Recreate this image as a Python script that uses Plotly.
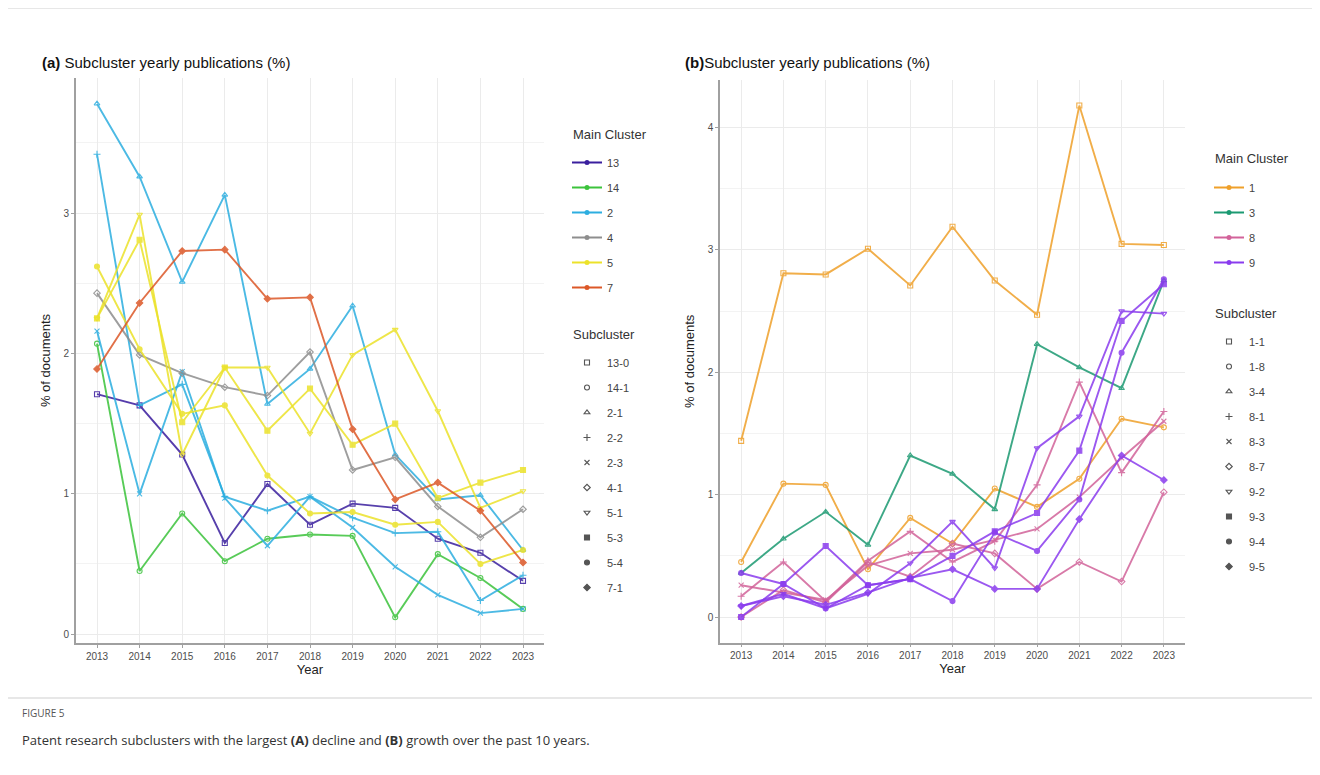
import plotly.graph_objects as go

W, H = 1320, 775
OFF = 8  # page body margin
years = list(range(2013, 2024))

# ---------- Panel (a) ----------
a_names = ["13-0", "14-1", "2-1", "2-2", "2-3", "4-1", "5-1", "5-3", "5-4", "7-1"]
a_cluster = ["13", "14", "2", "2", "2", "4", "5", "5", "5", "7"]
a_13_0 = [1.71, 1.63, 1.28, 0.65, 1.07, 0.78, 0.93, 0.90, 0.68, 0.58, 0.38]
a_14_1 = [2.07, 0.45, 0.86, 0.52, 0.68, 0.71, 0.70, 0.12, 0.57, 0.40, 0.18]
a_2_1 = [3.78, 3.26, 2.51, 3.13, 1.64, 1.89, 2.34, 1.28, 0.96, 0.99, 0.60]
a_2_2 = [3.42, 1.63, 1.78, 0.98, 0.88, 0.98, 0.83, 0.72, 0.73, 0.24, 0.42]
a_2_3 = [2.16, 1.00, 1.87, 0.97, 0.63, 0.98, 0.76, 0.48, 0.28, 0.15, 0.18]
a_4_1 = [2.43, 1.99, 1.86, 1.76, 1.70, 2.01, 1.17, 1.26, 0.91, 0.69, 0.89]
a_5_1 = [2.25, 2.99, 1.28, 1.90, 1.90, 1.43, 1.99, 2.17, 1.59, 0.90, 1.02]
a_5_3 = [2.25, 2.81, 1.51, 1.90, 1.45, 1.75, 1.35, 1.50, 0.97, 1.08, 1.17]
a_5_4 = [2.62, 2.03, 1.57, 1.63, 1.13, 0.86, 0.87, 0.78, 0.80, 0.50, 0.60]
a_7_1 = [1.89, 2.36, 2.73, 2.74, 2.39, 2.40, 1.46, 0.96, 1.08, 0.88, 0.51]
a_values = [a_13_0, a_14_1, a_2_1, a_2_2, a_2_3, a_4_1, a_5_1, a_5_3, a_5_4, a_7_1]
a_main = ["13", "14", "2", "4", "5", "7"]
a_colors = {"13": "#3A1F9E", "14": "#3CC33C", "2": "#2DAEE0",
            "4": "#8E8E8E", "5": "#ECE22A", "7": "#DC5828"}

# ---------- Panel (b) ----------
b_names = ["1-1", "1-8", "3-4", "8-1", "8-3", "8-7", "9-2", "9-3", "9-4", "9-5"]
b_cluster = ["1", "1", "3", "8", "8", "8", "9", "9", "9", "9"]
b_1_1 = [1.44, 2.81, 2.80, 3.01, 2.71, 3.19, 2.75, 2.47, 4.18, 3.05, 3.04]
b_1_8 = [0.45, 1.09, 1.08, 0.39, 0.81, 0.60, 1.05, 0.90, 1.13, 1.62, 1.55]
b_3_4 = [0.36, 0.64, 0.86, 0.59, 1.32, 1.17, 0.88, 2.23, 2.04, 1.87, 2.75]
b_8_1 = [0.17, 0.45, 0.13, 0.46, 0.70, 0.45, 0.62, 1.08, 1.92, 1.18, 1.68]
b_8_3 = [0.26, 0.20, 0.14, 0.42, 0.52, 0.55, 0.63, 0.72, 0.98, 1.30, 1.60]
b_8_7 = [0.00, 0.22, 0.12, 0.45, 0.33, 0.60, 0.52, 0.23, 0.45, 0.29, 1.02]
b_9_2 = [0.09, 0.19, 0.07, 0.19, 0.44, 0.78, 0.40, 1.38, 1.64, 2.50, 2.48]
b_9_3 = [0.00, 0.27, 0.58, 0.26, 0.31, 0.50, 0.70, 0.85, 1.36, 2.42, 2.72]
b_9_4 = [0.36, 0.27, 0.07, 0.26, 0.31, 0.13, 0.69, 0.54, 0.96, 2.16, 2.76]
b_9_5 = [0.09, 0.17, 0.10, 0.20, 0.32, 0.39, 0.23, 0.23, 0.80, 1.32, 1.12]
b_values = [b_1_1, b_1_8, b_3_4, b_8_1, b_8_3, b_8_7, b_9_2, b_9_3, b_9_4, b_9_5]
b_main = ["1", "3", "8", "9"]
b_colors = {"1": "#EFA02A", "3": "#1C9A72", "8": "#D2639A", "9": "#8A3CEE"}

symbols = ["square-open", "circle-open", "triangle-up-open", "cross-thin-open",
           "x-thin-open", "diamond-open", "triangle-down-open", "square",
           "circle", "diamond"]

FONT = "Liberation Sans, Arial, sans-serif"
fig = go.Figure()


def px_x(p):
    return (p - OFF) / W


def px_y(p):
    return 1 - (p - OFF) / H


def add_panel(names, clusters, values, colors, xa, ya, leg_main, leg_sub, mains):
    for name, cl, vals, sym in zip(names, clusters, values, symbols):
        col = colors[cl]
        fig.add_trace(go.Scatter(
            x=years, y=vals, mode="lines+markers", xaxis=xa, yaxis=ya,
            line=dict(color=col, width=1.9),
            marker=dict(symbol=sym, size=5, color=col,
                        line=dict(color=col, width=1.1)),
            showlegend=False, name=name, opacity=0.85))
    for cl in mains:
        fig.add_trace(go.Scatter(
            x=[None], y=[None], mode="lines+markers", xaxis=xa, yaxis=ya,
            line=dict(color=colors[cl], width=2),
            marker=dict(symbol="circle", size=5, color=colors[cl]),
            name=cl, legend=leg_main, legendgroup=leg_main + cl, showlegend=True))
    for name, sym in zip(names, symbols):
        fig.add_trace(go.Scatter(
            x=[None], y=[None], mode="markers", xaxis=xa, yaxis=ya,
            marker=dict(symbol=sym, size=5, color="#555555",
                        line=dict(color="#555555", width=1.1)),
            name=name, legend=leg_sub, legendgroup=leg_sub + name, showlegend=True))


add_panel(a_names, a_cluster, a_values, a_colors, "x", "y", "legend", "legend2", a_main)
add_panel(b_names, b_cluster, b_values, b_colors, "x2", "y2", "legend3", "legend4", b_main)

axis_common = dict(
    showline=True, linecolor="#a0a0a0", linewidth=1.5,
    ticks="outside", ticklen=3, tickcolor="#a0a0a0",
    tickfont=dict(family=FONT, size=10, color="#4d4d4d"),
    gridcolor="#ebebeb", gridwidth=1, zeroline=False,
    title_font=dict(family=FONT, size=13, color="#222222"),
)

fig.update_layout(
    width=W, height=H, autosize=False,
    margin=dict(l=0, r=0, t=0, b=0),
    paper_bgcolor="white", plot_bgcolor="white",
    font=dict(family=FONT, color="#333333"),
    xaxis=dict(domain=[px_x(75.7), px_x(544.3)], range=[2012.5, 2023.5],
               tickmode="array", tickvals=years, ticktext=[str(y) for y in years],
               title=dict(text="Year", standoff=4), anchor="y", **axis_common),
    yaxis=dict(domain=[px_y(643), px_y(78)], range=[-0.063, 3.963],
               tickvals=[0, 1, 2, 3], title=dict(text="% of documents", standoff=10),
               anchor="x",
               minor=dict(dtick=0.5, tick0=0, showgrid=True, gridcolor="#f3f3f3"),
               **axis_common),
    xaxis2=dict(domain=[px_x(720), px_x(1185)], range=[2012.5, 2023.5],
                tickmode="array", tickvals=years, ticktext=[str(y) for y in years],
                title=dict(text="Year", standoff=4), anchor="y2", **axis_common),
    yaxis2=dict(domain=[px_y(642.6), px_y(80)], range=[-0.209, 4.389],
                tickvals=[0, 1, 2, 3, 4], title=dict(text="% of documents", standoff=10),
                anchor="x2",
                minor=dict(dtick=0.5, tick0=0, showgrid=True, gridcolor="#f3f3f3"),
                **axis_common),
)

leg_common = dict(xanchor="left", yanchor="top", bgcolor="rgba(0,0,0,0)",
                  font=dict(family=FONT, size=11, color="#444444"),
                  tracegroupgap=6, itemwidth=30, traceorder="grouped")
fig.update_layout(
    legend=dict(x=px_x(567), y=px_y(148), **leg_common),
    legend2=dict(x=px_x(567), y=px_y(348), **leg_common),
    legend3=dict(x=px_x(1209), y=px_y(173), **leg_common),
    legend4=dict(x=px_x(1209), y=px_y(327), **leg_common),
)

title_font = dict(family=FONT, size=13, color="#333333")


def ann(x, y, text, font, anchor="left"):
    return dict(x=px_x(x), y=px_y(y), xref="paper", yref="paper", xanchor=anchor,
                yanchor="middle", text=text, showarrow=False, font=font)


annotations = [
    ann(40, 62, "<b>(a)</b> Subcluster yearly publications (%)",
        dict(family=FONT, size=15, color="#111111")),
    ann(683, 62, "<b>(b)</b>Subcluster yearly publications (%)",
        dict(family=FONT, size=15, color="#111111")),
    ann(571, 134, "Main Cluster", title_font),
    ann(571, 335, "Subcluster", title_font),
    ann(1213, 158, "Main Cluster", title_font),
    ann(1213, 313, "Subcluster", title_font),
    ann(20, 713, "FIGURE 5", dict(family="Open Sans, sans-serif", size=10, color="#555555")),
    ann(20, 740, "Patent research subclusters with the largest <b>(A)</b> decline and "
                 "<b>(B)</b> growth over the past 10 years.",
        dict(family="Open Sans, sans-serif", size=13, color="#333333")),
]
fig.update_layout(annotations=annotations)

fig.add_shape(type="rect", xref="paper", yref="paper",
              x0=px_x(5), x1=px_x(1315), y0=px_y(698), y1=px_y(8),
              line=dict(color="#cfcfcf", width=1), fillcolor="rgba(0,0,0,0)", layer="below")

fig.write_html("out.html")
